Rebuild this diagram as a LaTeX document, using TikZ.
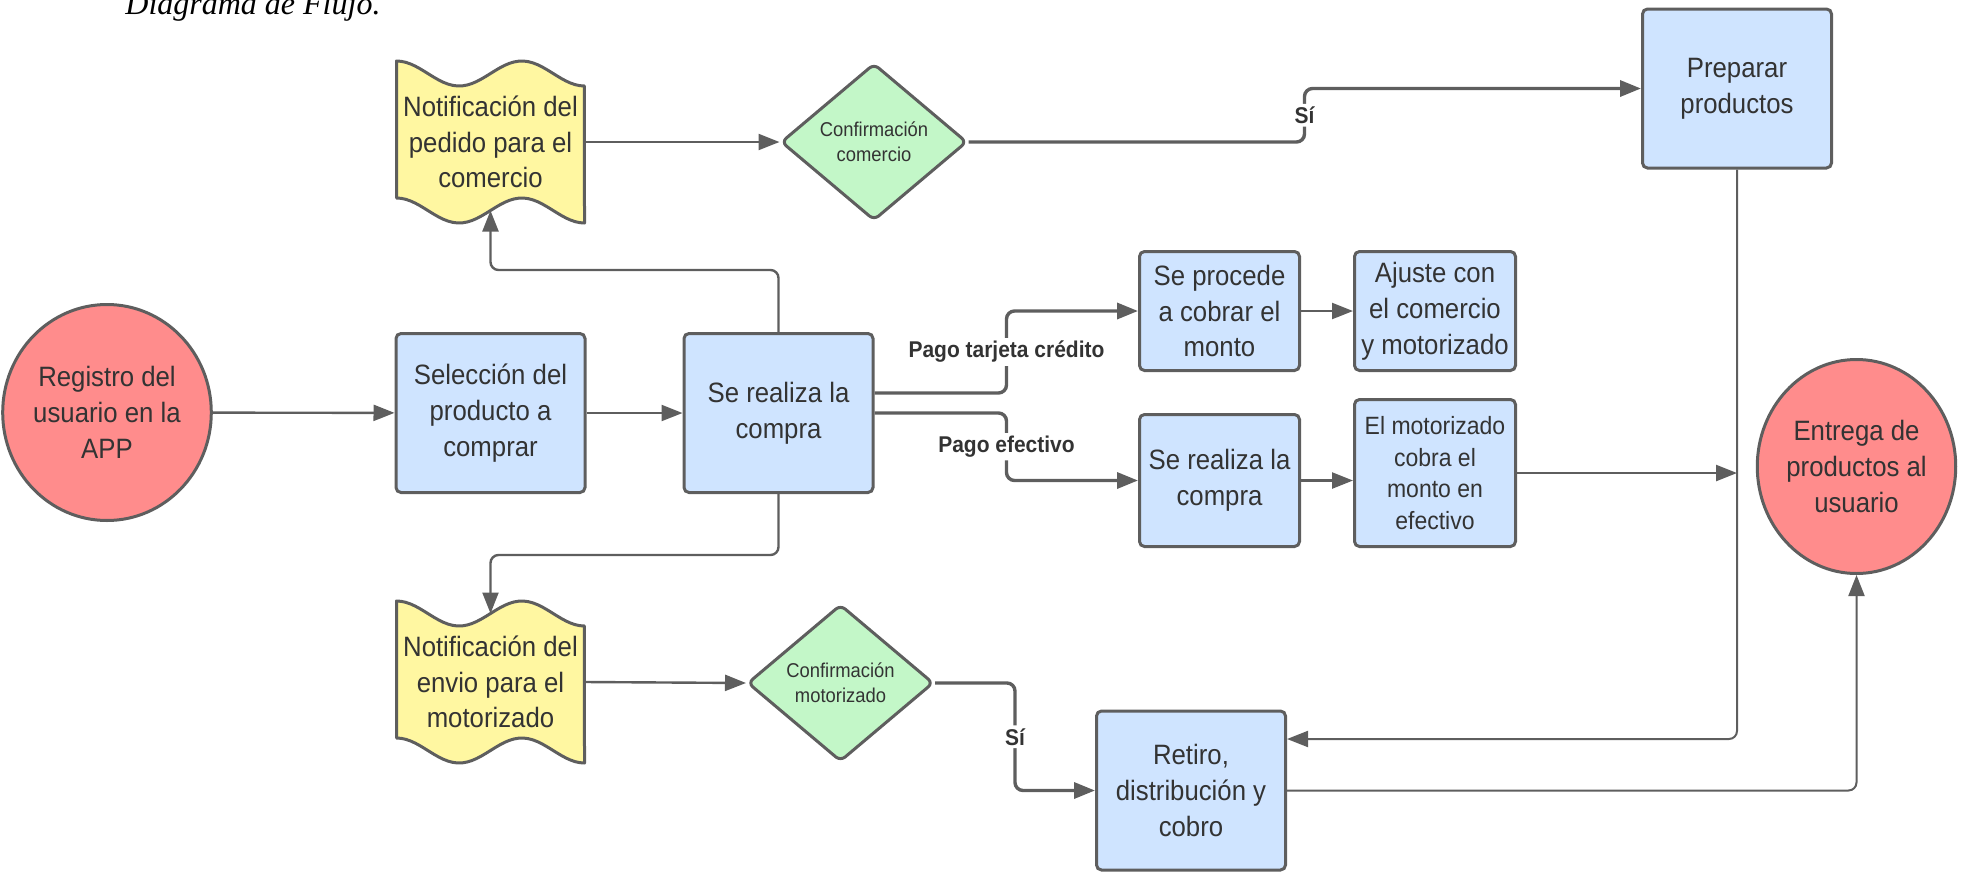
\documentclass[tikz,border=0pt]{standalone}
\usepackage{fontspec}
\setmainfont{Liberation Sans}[FakeStretch=0.92]
\newfontfamily\titlefont{Liberation Serif}
\usetikzlibrary{shapes.geometric,arrows.meta}

\definecolor{linegray}{HTML}{5E5E5E}
\definecolor{textgray}{HTML}{333333}
\definecolor{bluefill}{HTML}{CFE4FF}
\definecolor{redfill}{HTML}{FF8C8C}
\definecolor{yellowfill}{HTML}{FFF7A1}
\definecolor{greenfill}{HTML}{C3F7C8}

\newcommand{\boxtxt}{\fontsize{14}{17.9}\selectfont}
\newcommand{\decitxt}{\fontsize{10}{12.5}\selectfont}
\newcommand{\labtxt}{\fontsize{11.4}{13}\selectfont\bfseries}

% wavy document shape, centred on #1
\newcommand{\wavetape}[1]{\draw[draw=linegray,line width=1.5pt,fill=yellowfill,line join=round,shift={#1}]
  plot[domain=0:1,samples=41,variable=\t] ({-94+188*\t},{-81+12.5*(1-cos(540*\t))})
  -- plot[domain=1:0,samples=41,variable=\t] ({-94+188*\t},{56+12.5*(1-cos(540*\t))}) -- cycle;}

\begin{document}
\begin{tikzpicture}[x=0.5pt,y=-0.5pt,
  n/.style={rectangle,rounded corners=2.5pt,draw=linegray,line width=1.5pt,fill=bluefill,text=textgray,align=center,inner sep=0pt,font=\boxtxt,minimum width=94.5pt,minimum height=79.5pt},
  term/.style={ellipse,draw=linegray,line width=1.5pt,fill=redfill,text=textgray,align=center,inner sep=0pt,font=\boxtxt,minimum width=95.5pt,minimum height=108pt},
  deci/.style={diamond,aspect=1.2,rounded corners=3pt,draw=linegray,line width=1.5pt,fill=greenfill,text=textgray,align=center,inner sep=0pt,font=\decitxt,minimum width=93pt,minimum height=78.5pt},
  tp/.style={rectangle,inner sep=0pt,outer sep=0pt,text=textgray,align=center,font=\boxtxt,minimum width=94pt,minimum height=68.5pt},
  e/.style={draw=linegray,line width=1.2pt,rounded corners=4pt,-{Triangle[length=10.5pt,width=8pt]}},
  eb/.style={e,line width=1.7pt},
  et/.style={e,line width=1pt},
  lab/.style={fill=white,inner sep=1.5pt,text=textgray,font=\labtxt}]

\useasboundingbox (0,0) rectangle (1961,873);

\node[anchor=base west,inner sep=0pt,font=\titlefont\itshape\fontsize{16}{19}\selectfont] (titulo) at (125,14) {Diagrama de Flujo.};

% main row
\node[term] (reg) at (107,412.5) {Registro del\\usuario en la\\APP};
\node[n] (sel) at (490.5,413) {Selección del\\producto a\\comprar};
\node[n] (compra) at (778.5,413) {Se realiza la\\compra};

% notifications
\wavetape{(490.5,142)}
\node[tp] (notped) at (490.5,142) {Notificación del\\pedido para el\\comercio};
\wavetape{(490.5,682)}
\node[tp] (notenv) at (490.5,682) {Notificación del\\envio para el\\motorizado};

\node[deci] (confcom) at (874,142) {Confirmación\\comercio};
\node[deci] (confmot) at (840.5,683) {Confirmación\\motorizado};

\node[n] (prep) at (1737,88.5) {Preparar\\productos};

% payment branches
\node[n, minimum width=80pt, minimum height=59.5pt] (cobrar) at (1219.5,311) {Se procede\\a cobrar el\\monto};
\node[n, minimum width=80.5pt, minimum height=59.5pt] (ajuste) at (1435,311) {Ajuste con\\el comercio\\y motorizado};
\node[n, minimum width=80pt, minimum height=66pt] (compra2) at (1219.5,480.5) {Se realiza la\\compra};
\node[n, minimum width=80.5pt, minimum height=73.5pt, font=\fontsize{12.5}{15.8}\selectfont] (cobra) at (1435,473) {El motorizado\\cobra el\\monto en\\efectivo};

\node[term, minimum width=95pt, minimum height=107pt] (entrega) at (1856.5,466.5) {Entrega de\\productos al\\usuario};
\node[n] (retiro) at (1191,790.5) {Retiro,\\distribución y\\cobro};

% connectors
\path[e] (reg) -- (sel);
\path[e] (sel) -- (compra);
\path[e] (compra.north) -- ++(0,-62) -| (notped.south);
\path[e] (compra.south) -- ++(0,61) -| (notenv.north);
\path[e] (notped.east) -- (confcom.west);
\path[eb] (confcom.east) -- ++(336,0) |- (prep.west) node[lab,pos=0.25] {Sí};
\path[eb] ([yshift=10pt]compra.east) -- ++(132,0) |- (cobrar.west) node[lab,pos=0.25] {Pago tarjeta crédito};
\path[eb] (compra.east) -- ++(132,0) |- (compra2.west) node[lab,pos=0.25] {Pago efectivo};
\path[e] (cobrar) -- (ajuste);
\path[e] (compra2.east) -- (compra2.east -| cobra.west);
\coordinate (hit) at (cobra.east -| prep.south);
\path[e] (cobra.east) -- (hit);
\path[et] (prep.south) |- ([yshift=25.75pt]retiro.east);
\path[et] (retiro.east) -| (entrega.south);
\path[e] (notenv.east) -- (confmot.west);
\path[eb] (confmot.east) -- ++(80,0) |- (retiro.west) node[lab,pos=0.25] {Sí};

\end{tikzpicture}
\end{document}
